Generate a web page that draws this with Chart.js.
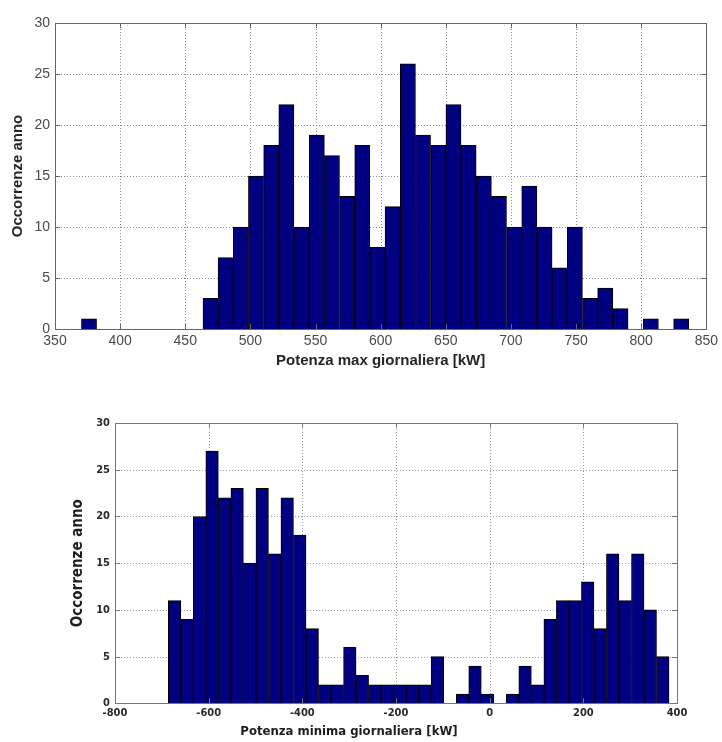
<!DOCTYPE html>
<html>
<head>
<meta charset="utf-8">
<script src="https://cdn.jsdelivr.net/npm/chart.js@4.4.1/dist/chart.umd.min.js"></script>
<style>
  body { margin: 0; background: #fff; width: 722px; height: 742px; overflow: hidden; position: relative; }
  .wrap { position: absolute; left: 0; width: 722px; }
</style>
</head>
<body>
<div class="wrap" style="top:0;height:380px"><canvas id="maxChart"></canvas></div>
<div class="wrap" style="top:380px;height:362px"><canvas id="minChart"></canvas></div>
<script>
// istogramma potenza massima giornaliera (40 classi)
const maxBinCenters = [
  376.1, 387.8, 399.4, 411.1, 422.8, 434.4, 446.1, 457.7, 469.4, 481.0,
  492.7, 504.3, 516.0, 527.6, 539.3, 551.0, 562.6, 574.3, 585.9, 597.6,
  609.2, 620.9, 632.5, 644.2, 655.9, 667.5, 679.2, 690.8, 702.5, 714.1,
  725.8, 737.4, 749.1, 760.8, 772.4, 784.1, 795.7, 807.4, 819.0, 830.7
];
const maxCounts = [
  1, 0, 0, 0, 0, 0, 0, 0, 3, 7,
  10, 15, 18, 22, 10, 19, 17, 13, 18, 8,
  12, 26, 19, 18, 22, 18, 15, 13, 10, 14,
  10, 6, 10, 3, 4, 2, 0, 1, 0, 1
];

// istogramma potenza minima giornaliera (40 classi)
const minBinCenters = [
  -672.8, -646.1, -619.4, -592.7, -565.9, -539.2, -512.5, -485.7, -459.0, -432.3,
  -405.5, -378.8, -352.1, -325.3, -298.6, -271.9, -245.2, -218.4, -191.7, -165.0,
  -138.2, -111.5, -84.8, -58.0, -31.3, -4.6, 22.2, 48.9, 75.6, 102.3,
  129.1, 155.8, 182.5, 209.3, 236.0, 262.7, 289.5, 316.2, 342.9, 369.7
];
const minCounts = [
  11, 9, 20, 27, 22, 23, 15, 23, 16, 22,
  18, 8, 2, 2, 6, 3, 2, 2, 2, 2,
  2, 5, 0, 1, 4, 1, 0, 1, 4, 2,
  9, 11, 11, 13, 8, 16, 11, 16, 10, 5
];

const yTitle = "Occorrenze anno";
const maxXTitle = "Potenza max giornaliera [kW]";
const minXTitle = "Potenza minima giornaliera [kW]";

const barFill = "#000080";

// griglia tratteggiata, riquadro e tacche interne stile MATLAB
const matlabAxes = {
  id: "matlabAxes",
  beforeDatasetsDraw(chart, args, opts) {
    const { ctx, chartArea: a, scales: { x, y } } = chart;
    ctx.save();
    ctx.strokeStyle = opts.gridColor;
    ctx.lineWidth = 1;
    ctx.setLineDash([1, 2]);
    x.ticks.forEach(t => {
      const px = Math.round(x.getPixelForValue(t.value)) + 0.5;
      if (px <= a.left + 1 || px >= a.right - 1) return;
      ctx.beginPath(); ctx.moveTo(px, a.top); ctx.lineTo(px, a.bottom); ctx.stroke();
    });
    y.ticks.forEach(t => {
      const py = Math.round(y.getPixelForValue(t.value)) + 0.5;
      if (py <= a.top + 1 || py >= a.bottom - 1) return;
      ctx.beginPath(); ctx.moveTo(a.left, py); ctx.lineTo(a.right, py); ctx.stroke();
    });
    ctx.restore();
  },
  afterDatasetsDraw(chart, args, opts) {
    const { ctx, chartArea: a, scales: { x, y } } = chart;
    const len = opts.tickLen;
    ctx.save();
    ctx.strokeStyle = opts.boxColor;
    ctx.lineWidth = 1;
    ctx.strokeRect(Math.round(a.left) + 0.5, Math.round(a.top) + 0.5,
      Math.round(a.right - a.left), Math.round(a.bottom - a.top));
    ctx.beginPath();
    x.ticks.forEach(t => {
      const px = Math.round(x.getPixelForValue(t.value)) + 0.5;
      ctx.moveTo(px, a.bottom); ctx.lineTo(px, a.bottom - len);
      ctx.moveTo(px, a.top); ctx.lineTo(px, a.top + len);
    });
    y.ticks.forEach(t => {
      const py = Math.round(y.getPixelForValue(t.value)) + 0.5;
      ctx.moveTo(a.left, py); ctx.lineTo(a.left + len, py);
      ctx.moveTo(a.right, py); ctx.lineTo(a.right - len, py);
    });
    ctx.stroke();
    ctx.restore();
  }
};

function histData(centers, counts) {
  return {
    datasets: [{
      data: centers.map((c, i) => ({ x: c, y: counts[i] })),
      backgroundColor: barFill,
      borderColor: "#000000",
      borderWidth: 1,
      barPercentage: 1,
      categoryPercentage: 1
    }]
  };
}

// grafico superiore
const plainFont = "Liberation Sans, Arial, sans-serif";
new Chart(document.getElementById("maxChart"), {
  type: "bar",
  data: histData(maxBinCenters, maxCounts),
  options: {
    responsive: true,
    maintainAspectRatio: false,
    animation: false,
    layout: { padding: { top: 23, right: 11, left: 0, bottom: 0 } },
    plugins: {
      legend: { display: false },
      tooltip: { enabled: false },
      matlabAxes: { gridColor: "#8a8a8a", boxColor: "#666666", tickLen: 5 }
    },
    scales: {
      x: {
        type: "linear",
        min: 350, max: 850,
        offset: false,
        afterFit: s => { s.height = 51; },
        grid: { display: false, drawTicks: false },
        border: { display: false },
        ticks: {
          stepSize: 50, padding: 4, maxRotation: 0, autoSkip: false,
          color: "#4a4a4a", font: { family: plainFont, size: 14 }
        },
        title: {
          display: true, text: maxXTitle, color: "#262626",
          padding: { top: 0, bottom: 10 },
          font: { family: plainFont, size: 15, weight: "bold" }
        }
      },
      y: {
        min: 0, max: 30,
        afterFit: s => { s.width = 55; },
        grid: { display: false, drawTicks: false },
        border: { display: false },
        ticks: {
          stepSize: 5, padding: 5,
          color: "#4a4a4a", font: { family: plainFont, size: 14 }
        },
        title: {
          display: true, text: yTitle, color: "#262626",
          padding: { top: 9, bottom: 0 },
          font: { family: plainFont, size: 15, weight: "bold" }
        }
      }
    }
  },
  plugins: [matlabAxes]
});

// grafico inferiore
const narrowFont = "Liberation Sans Narrow, DejaVu Sans Condensed, Arial, sans-serif";
new Chart(document.getElementById("minChart"), {
  type: "bar",
  data: histData(minBinCenters, minCounts),
  options: {
    responsive: true,
    maintainAspectRatio: false,
    animation: false,
    layout: { padding: { top: 43, right: 45, left: 21, bottom: 0 } },
    plugins: {
      legend: { display: false },
      tooltip: { enabled: false },
      title: {
        display: true, position: "bottom", text: minXTitle, color: "#1e1e1e",
        padding: { top: 0, bottom: 3 },
        font: { family: narrowFont, size: 13, weight: "bold" }
      },
      matlabAxes: { gridColor: "#9a9a9a", boxColor: "#777777", tickLen: 5 }
    },
    scales: {
      x: {
        type: "linear",
        min: -800, max: 400,
        offset: false,
        afterFit: s => { s.height = 20; },
        grid: { display: false, drawTicks: false },
        border: { display: false },
        ticks: {
          stepSize: 200, padding: 3, maxRotation: 0, autoSkip: false,
          color: "#2a2a2a", font: { family: narrowFont, size: 11, weight: "bold" }
        }
      },
      y: {
        min: 0, max: 30,
        afterFit: s => { s.width = 94; },
        grid: { display: false, drawTicks: false },
        border: { display: false },
        ticks: {
          stepSize: 5, padding: 5,
          color: "#2a2a2a", font: { family: narrowFont, size: 11, weight: "bold" }
        },
        title: {
          display: true, text: yTitle, color: "#1e1e1e",
          padding: { top: 48, bottom: 0 },
          font: { family: narrowFont, size: 15, weight: "bold" }
        }
      }
    }
  },
  plugins: [matlabAxes]
});
</script>
</body>
</html>
